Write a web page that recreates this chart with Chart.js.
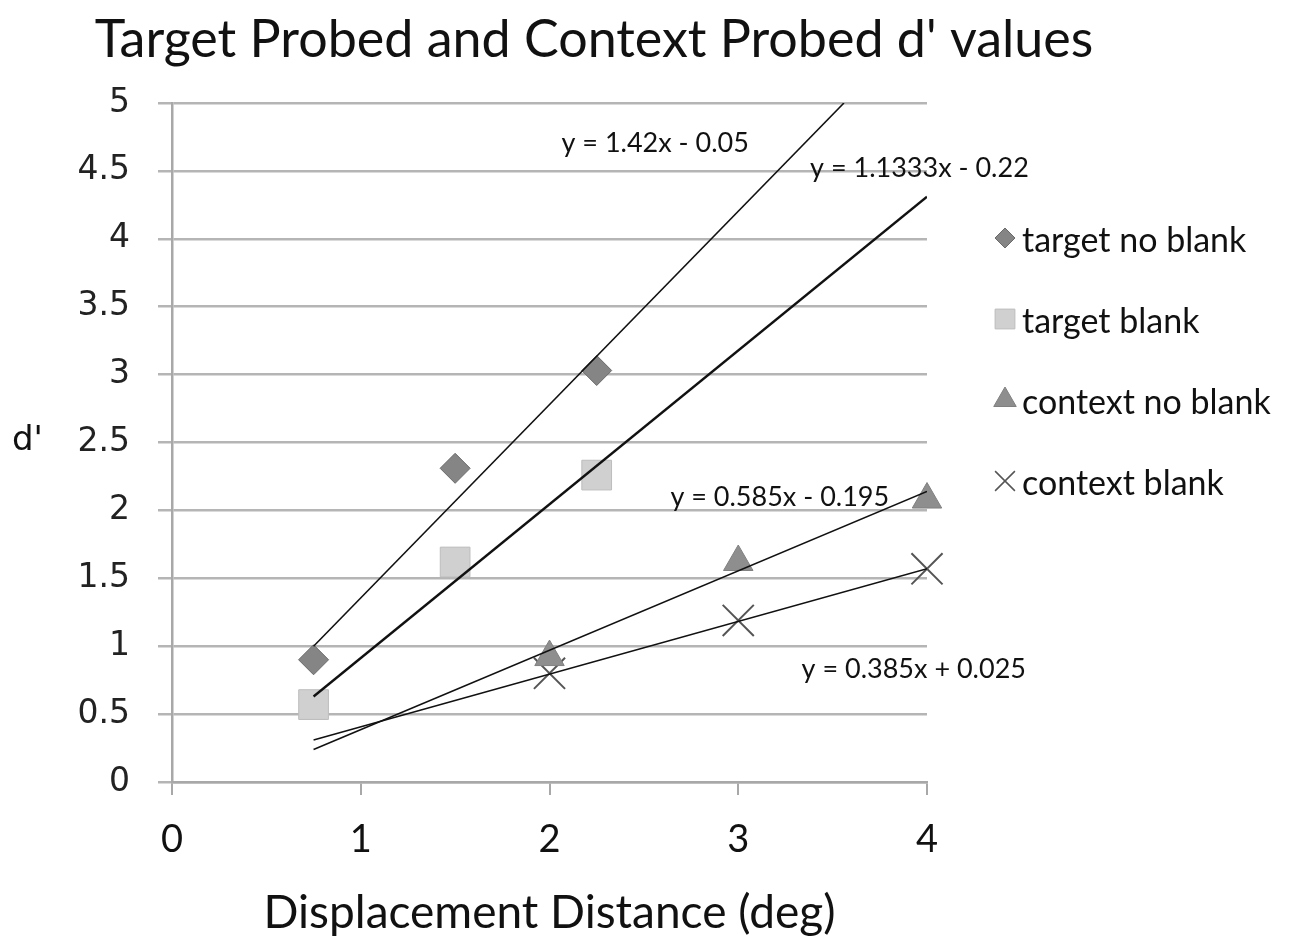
<!DOCTYPE html>
<html>
<head>
<meta charset="UTF-8">
<title>Target Probed and Context Probed d' values</title>
<script src="https://cdn.jsdelivr.net/npm/chart.js@4.4.0/dist/chart.umd.min.js"></script>
<style>
  html, body { margin: 0; padding: 0; background: #fff; }
  #wrap { width: 1300px; height: 941px; }
</style>
</head>
<body>
<div id="wrap"><canvas id="grafico"></canvas></div>
<script>
// valores
var titulo = "Target Probed and Context Probed d' values";
var nomesSeries = ["target no blank", "target blank", "context no blank", "context blank"];
var xTarget = [0.75, 1.5, 2.25];
var xContext = [2, 3, 4];
var targetNoBlank = [0.9, 2.31, 3.03];
var targetBlank = [0.57, 1.62, 2.26];
var contextNoBlank = [0.92, 1.62, 2.08];
var contextBlank = [0.8, 1.19, 1.57];

// linhas de tendencia (inicio e fim)
var tendTargetNoBlank = [[0.75, 1.0], [3.56, 5.0]];
var tendTargetBlank = [[0.75, 0.63], [4, 4.31]];
var tendContextNoBlank = [[0.75, 0.24], [4, 2.14]];
var tendContextBlank = [[0.75, 0.31], [4, 1.57]];
var equacoes = ["y = 1.42x - 0.05", "y = 1.1333x - 0.22", "y = 0.585x - 0.195", "y = 0.385x + 0.025"];
var posEquacoes = [[2.56, 4.7], [3.96, 4.52], [3.22, 2.1], [3.93, 0.83]];

var xTicks = [0, 1, 2, 3, 4];
var yTicks = [0, 0.5, 1, 1.5, 2, 2.5, 3, 3.5, 4, 4.5, 5];

function pontos(xs, ys) {
    return xs.map(function(x, i) { return { x: x, y: ys[i] }; });
}
function linha(par) {
    return par.map(function(p) { return { x: p[0], y: p[1] }; });
}
function tendencia(par, largura) {
    return {
        data: linha(par), showLine: true, borderColor: "#111", borderWidth: largura,
        pointRadius: 0, pointHoverRadius: 0, fill: false
    };
}

var estilos = [
    { pointStyle: "rectRot", radius: 15, bg: "#858585", borda: "#6a6a6a", lr: 10 },
    { pointStyle: "rect", radius: 21, bg: "#d0d0d0", borda: "#bdbdbd", lr: 14 },
    { pointStyle: "triangle", radius: 17, bg: "#8e8e8e", borda: "#808080", lr: 13 },
    { pointStyle: "crossRot", radius: 22, bg: "#555", borda: "#555", lr: 14 }
];
var valoresSeries = [
    pontos(xTarget, targetNoBlank),
    pontos(xTarget, targetBlank),
    pontos(xContext, contextNoBlank),
    pontos(xContext, contextBlank)
];

var datasets = [
    tendencia(tendTargetNoBlank, 1.6),
    tendencia(tendTargetBlank, 2.4),
    tendencia(tendContextNoBlank, 1.6),
    tendencia(tendContextBlank, 1.6)
];
valoresSeries.forEach(function(v, i) {
    datasets.push({
        label: nomesSeries[i], data: v, showLine: false, clip: false,
        pointStyle: estilos[i].pointStyle, pointRadius: estilos[i].radius,
        pointHoverRadius: estilos[i].radius,
        backgroundColor: estilos[i].bg, borderColor: estilos[i].borda,
        borderWidth: i === 3 ? 2 : 1
    });
});

var fonteTexto = "Lato, 'Open Sans', sans-serif";

// titulo, rotulo "d'", legenda e equacoes
var textos = {
    id: "textos",
    afterDraw: function(chart) {
        var ctx = chart.ctx, area = chart.chartArea;
        var sx = chart.scales.x, sy = chart.scales.y;
        ctx.save();
        ctx.fillStyle = "#111";
        ctx.textBaseline = "middle";

        ctx.font = "52px " + fonteTexto;
        ctx.textAlign = "center";
        ctx.fillText(titulo, 594, 40);

        ctx.font = "34px 'DejaVu Sans'";
        ctx.textAlign = "left";
        ctx.fillText("d'", 12, 441);

        ctx.font = "27px " + fonteTexto;
        ctx.textAlign = "center";
        equacoes.forEach(function(eq, i) {
            ctx.fillText(eq, sx.getPixelForValue(posEquacoes[i][0]), sy.getPixelForValue(posEquacoes[i][1]));
        });

        ctx.font = "34px " + fonteTexto;
        ctx.textAlign = "left";
        nomesSeries.forEach(function(nome, i) {
            var y = area.top + 137 + i * 81;
            var e = estilos[i];
            ctx.fillStyle = e.bg;
            ctx.strokeStyle = e.borda;
            ctx.lineWidth = i === 3 ? 1.5 : 1;
            Chart.helpers.drawPoint(ctx, { pointStyle: e.pointStyle, radius: e.lr, borderWidth: ctx.lineWidth }, 1005, y - 2);
            ctx.fillStyle = "#111";
            ctx.fillText(nome, 1022, y + 1);
        });
        ctx.restore();
    }
};

var ctx = document.getElementById("grafico").getContext("2d");
var grafico = new Chart(ctx, {
    type: "scatter",
    data: { datasets: datasets },
    options: {
        responsive: true,
        maintainAspectRatio: false,
        animation: false,
        layout: { padding: { top: 103, right: 373, left: 0, bottom: 0 } },
        plugins: {
            legend: { display: false },
            tooltip: { enabled: false }
        },
        scales: {
            x: {
                type: "linear", min: 0, max: 4,
                afterBuildTicks: function(s) { s.ticks = xTicks.map(function(v) { return { value: v }; }); },
                afterFit: function(s) { s.height = 159; },
                border: { color: "#a8a8a8", width: 2.5 },
                grid: { drawOnChartArea: false, drawTicks: true, tickLength: 13, color: "#a8a8a8", lineWidth: 2 },
                ticks: { color: "#111", font: { family: fonteTexto, size: 38 }, padding: 22 },
                title: {
                    display: true, text: "Displacement Distance (deg)", color: "#111",
                    font: { family: fonteTexto, size: 46 }, padding: { top: 0, bottom: 0 }
                }
            },
            y: {
                type: "linear", min: 0, max: 5,
                afterBuildTicks: function(s) { s.ticks = yTicks.map(function(v) { return { value: v }; }); },
                afterFit: function(s) { s.width = 172; },
                border: { color: "#a8a8a8", width: 2.5 },
                grid: { color: "#b5b5b5", lineWidth: 2.5, tickLength: 14, drawTicks: true },
                ticks: {
                    color: "#222", font: { family: "'DejaVu Sans'", size: 33 }, padding: 28,
                    callback: function(v) { return String(v); }
                }
            }
        }
    },
    plugins: [textos]
});
</script>
</body>
</html>
